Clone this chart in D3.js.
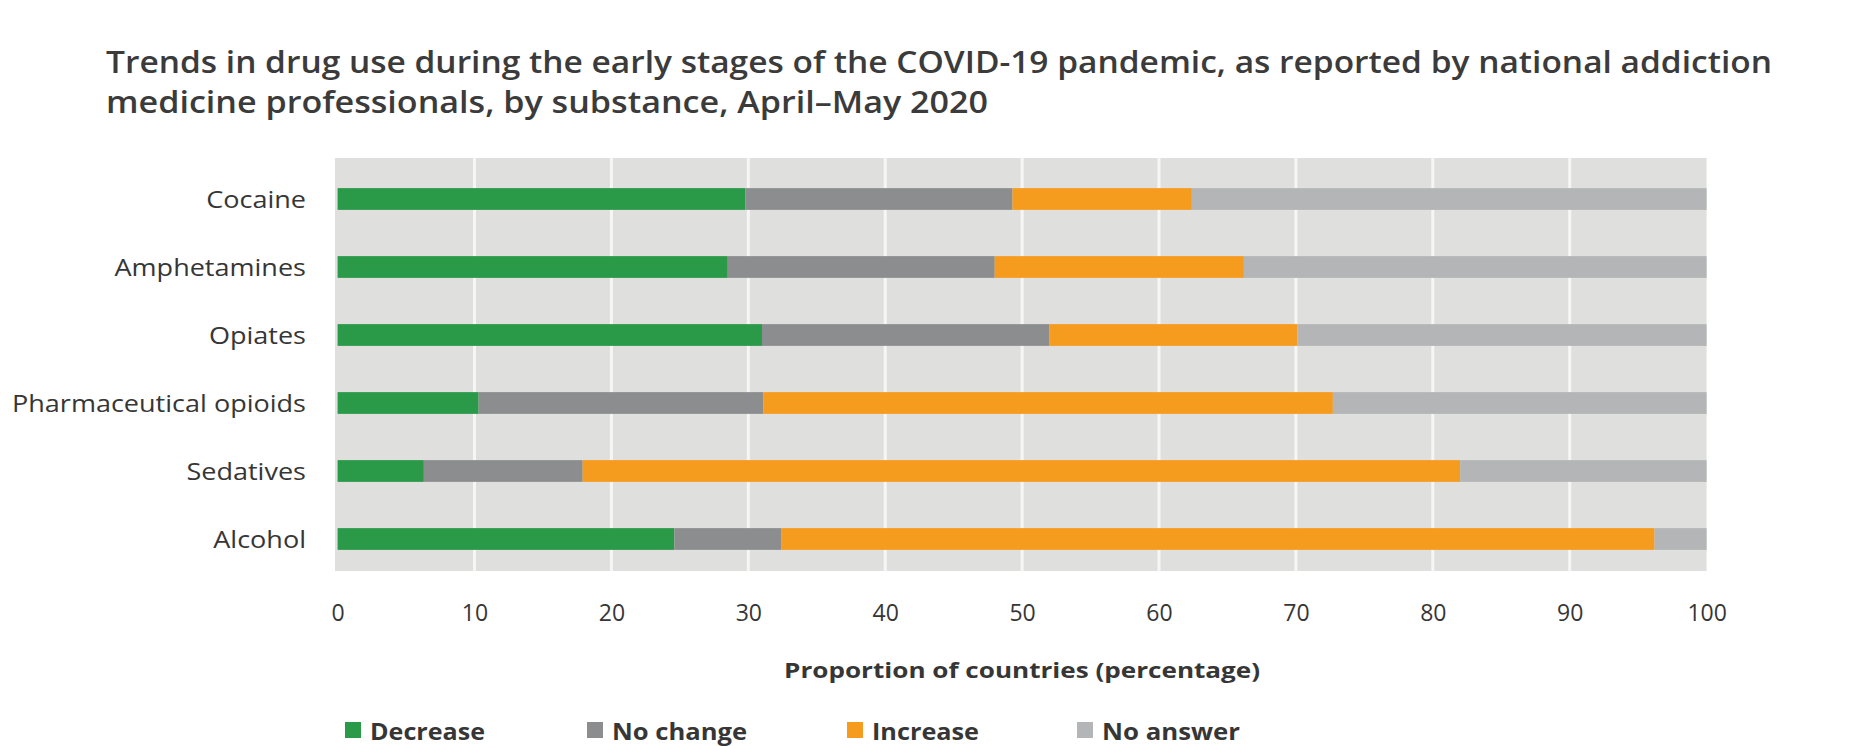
<!DOCTYPE html>
<html>
<head>
<meta charset="utf-8">
<script src="https://cdn.jsdelivr.net/npm/d3@7"></script>
<style>
  html, body { margin: 0; padding: 0; background: #ffffff; }
  svg { display: block; font-family: "Open Sans", "Noto Sans", sans-serif; }
</style>
</head>
<body>
<svg id="chart" width="1872" height="746"></svg>
<script>
// ---- Data ----
const titleLines = [
  "Trends in drug use during the early stages of the COVID-19 pandemic, as reported by national addiction",
  "medicine professionals, by substance, April\u2013May 2020"
];
const categories = ["Cocaine", "Amphetamines", "Opiates", "Pharmaceutical opioids", "Sedatives", "Alcohol"];
const seriesNames = ["Decrease", "No change", "Increase", "No answer"];
const decrease  = [29.8, 28.5, 31.0, 10.3, 6.3, 24.6];
const noChange  = [19.5, 19.5, 21.0, 20.8, 11.6, 7.8];
const increase  = [13.1, 18.2, 18.1, 41.6, 64.1, 63.8];
const noAnswer  = [37.6, 33.8, 29.9, 27.3, 18.0, 3.8];
const tickValues = [0, 10, 20, 30, 40, 50, 60, 70, 80, 90, 100];
const axisTitle = "Proportion of countries (percentage)";
const colors = ["#2a9a49", "#8c8d8f", "#f59c1f", "#b3b5b6"];

// ---- Build table ----
const table = categories.map((c, i) => ({
  cat: c,
  "Decrease": decrease[i],
  "No change": noChange[i],
  "Increase": increase[i],
  "No answer": noAnswer[i]
}));
const stacked = d3.stack().keys(seriesNames)(table);

const svg = d3.select("#chart");
const textColor = "#363636";

function fitWidth(sel, target) {
  sel.each(function () {
    const w = this.getComputedTextLength();
    if (w > 0) {
      d3.select(this).attr("textLength", target).attr("lengthAdjust", "spacingAndGlyphs");
    }
  });
}
function scaleGroup(sel, refIndex, target) {
  const nodes = sel.nodes();
  const refW = nodes[refIndex].getComputedTextLength();
  const f = target / refW;
  nodes.forEach(n => {
    const w = n.getComputedTextLength();
    d3.select(n).attr("textLength", w * f).attr("lengthAdjust", "spacingAndGlyphs");
  });
}

// ---- Scales ----
const x = d3.scaleLinear().domain([0, 100]).range([337.6, 1706.6]);
const y = d3.scaleBand().domain(categories).range([165, 573]).paddingInner(0.68).paddingOuter(0.34);

// ---- Title ----
const titleG = svg.append("g");
const titleBaselines = [73, 113];
const titleWidths = [1666, 882];
titleLines.forEach((t, i) => {
  const el = titleG.append("text")
    .attr("x", 106).attr("y", titleBaselines[i])
    .attr("font-size", 31).attr("font-weight", 600)
    .attr("fill", "#3b3b3b")
    .text(t);
  fitWidth(el, titleWidths[i]);
});

// ---- Plot background ----
svg.append("rect")
  .attr("x", x(0) - 2.6).attr("y", 158)
  .attr("width", x(100) - x(0) + 2.6).attr("height", 571 - 158)
  .attr("fill", "#dfe0de");

// gridlines
svg.append("g").selectAll("line")
  .data(tickValues.filter(v => v > 0 && v < 100))
  .join("line")
  .attr("x1", d => x(d)).attr("x2", d => x(d))
  .attr("y1", 158).attr("y2", 571)
  .attr("stroke", "#f6f6f6").attr("stroke-width", 3);

// ---- Bars ----
svg.append("g").selectAll("g")
  .data(stacked)
  .join("g")
  .attr("fill", (d, i) => colors[i])
  .selectAll("rect")
  .data(d => d)
  .join("rect")
  .attr("x", d => x(d[0]))
  .attr("width", d => x(d[1]) - x(d[0]))
  .attr("y", d => y(d.data.cat))
  .attr("height", y.bandwidth());

// ---- Category labels ----
const labels = svg.append("g").selectAll("text")
  .data(categories)
  .join("text")
  .attr("x", 306)
  .attr("y", d => y(d) + y.bandwidth() / 2)
  .attr("dy", "0.36em")
  .attr("text-anchor", "end")
  .attr("font-size", 24)
  .attr("fill", textColor)
  .text(d => d);
scaleGroup(labels, 3, 294);

// ---- X axis ticks ----
const xAxis = d3.axisBottom(x).tickValues(tickValues).tickSize(0).tickPadding(0);
const axG = svg.append("g").attr("transform", "translate(0,0)").call(xAxis);
axG.select(".domain").remove();
axG.selectAll(".tick text")
  .attr("y", 621)
  .attr("dy", null)
  .attr("font-size", 23)
  .attr("font-family", "\"Open Sans\", sans-serif")
  .attr("fill", textColor);

// ---- Axis title ----
const at = svg.append("text")
  .attr("x", (x(0) + x(100)) / 2)
  .attr("y", 678)
  .attr("text-anchor", "middle")
  .attr("font-size", 22)
  .attr("font-weight", 700)
  .attr("fill", textColor)
  .text(axisTitle);
fitWidth(at, 476);

// ---- Legend ----
const legendX = [345, 587, 847, 1077];
const legendTextW = [115, 135, 107, 138];
const lg = svg.append("g");
seriesNames.forEach((s, i) => {
  lg.append("rect")
    .attr("x", legendX[i]).attr("y", 722)
    .attr("width", 16).attr("height", 16)
    .attr("fill", colors[i]);
  const t = lg.append("text")
    .attr("x", legendX[i] + 25).attr("y", 740)
    .attr("font-size", 23).attr("font-weight", 700)
    .attr("fill", textColor)
    .text(s);
  fitWidth(t, legendTextW[i]);
});
</script>
</body>
</html>
